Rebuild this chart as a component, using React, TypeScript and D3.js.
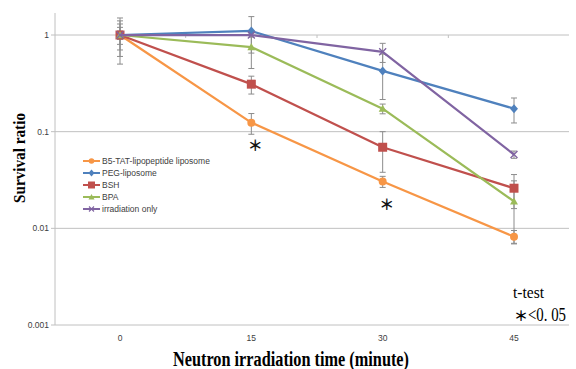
import React, { useRef, useEffect } from 'react'
import * as d3 from 'd3'

// neutron irradiation time (minute)
const times = ['0', '15', '30', '45']
const seriesNames = ['B5-TAT-lipopeptide liposome', 'PEG-liposome', 'BSH', 'BPA', 'irradiation only']
const seriesColors = ['#F79646', '#4F81BD', '#C0504D', '#9BBB59', '#8064A2']
const seriesMarkers = ['circle', 'diamond', 'square', 'triangle', 'x']

// survival ratio and error (linear +/-)
const b5tat = [1, 0.124, 0.0305, 0.0082]
const b5tatErr = [0.5, 0.03, 0.004, 0.0013]
const peg = [1, 1.1, 0.425, 0.173]
const pegErr = [0.4, 0.45, 0.21, 0.05]
const bsh = [1, 0.31, 0.069, 0.026]
const bshErr = [0.3, 0.065, 0.031, 0.01]
const bpa = [1, 0.75, 0.173, 0.019]
const bpaErr = [0.2, 0.3, 0.02, 0.012]
const irradiation = [1, 1.0, 0.67, 0.058]
const irradiationErr = [0.1, 0.05, 0.15, 0.005]

const yTicks = [1, 0.1, 0.01, 0.001]
const yTickLabels = ['1', '0.1', '0.01', '0.001']
// points marked significant (series 0)
const starTimes = ['15', '30']

const values = [b5tat, peg, bsh, bpa, irradiation]
const errors = [b5tatErr, pegErr, bshErr, bpaErr, irradiationErr]

const W = 576
const H = 369

const markerPath = (type: string, cx: number, cy: number, s: number) => {
  const h = s / 2
  if (type === 'diamond') return `M${cx},${cy - h - 0.5}L${cx + h},${cy}L${cx},${cy + h + 0.5}L${cx - h},${cy}Z`
  if (type === 'square') return `M${cx - h},${cy - h}h${s}v${s}h${-s}Z`
  if (type === 'triangle') return `M${cx},${cy - h}L${cx + h},${cy + h * 0.8}L${cx - h},${cy + h * 0.8}Z`
  if (type === 'x') return `M${cx - h},${cy - h}L${cx + h},${cy + h}M${cx - h},${cy + h}L${cx + h},${cy - h}`
  return ''
}

const App = () => {
  const svgRef = useRef<SVGSVGElement>(null)

  useEffect(() => {
    const svg = d3.select(svgRef.current)
    svg.selectAll('*').remove()

    const left = 55
    const right = 569

    const x = d3.scalePoint<string>().domain(times).range([120, 514])
    const y = d3.scaleLog().domain([0.001, 1]).range([325, 35])
    const step = x.step()

    // gridlines
    svg.append('g')
      .selectAll('line')
      .data(yTicks)
      .join('line')
      .attr('x1', left)
      .attr('x2', right)
      .attr('y1', d => y(d))
      .attr('y2', d => y(d))
      .attr('stroke', '#c0c0c0')
      .attr('stroke-width', 1)

    // y axis
    svg.append('line')
      .attr('x1', left).attr('x2', left)
      .attr('y1', y(1) - 22).attr('y2', y(0.001))
      .attr('stroke', '#c0c0c0')
    svg.append('g')
      .selectAll('line')
      .data(yTicks)
      .join('line')
      .attr('x1', left - 4).attr('x2', left)
      .attr('y1', d => y(d)).attr('y2', d => y(d))
      .attr('stroke', '#c0c0c0')
    svg.append('g')
      .selectAll('text')
      .data(yTicks)
      .join('text')
      .attr('x', 49)
      .attr('y', d => y(d) + 3)
      .attr('text-anchor', 'end')
      .attr('font-family', '"Liberation Sans Narrow", "Liberation Sans", sans-serif')
      .attr('font-size', 8.5)
      .attr('fill', '#404040')
      .text((d, i) => yTickLabels[i])

    // category axis crosses at 1: tick marks at boundaries
    const bounds = times.slice(0, -1).map(t => (x(t) as number) + step / 2)
    svg.append('g')
      .selectAll('line')
      .data(bounds)
      .join('line')
      .attr('x1', d => d).attr('x2', d => d)
      .attr('y1', y(1)).attr('y2', y(1) + 3)
      .attr('stroke', '#c0c0c0')

    // x tick labels (low position)
    svg.append('g')
      .selectAll('text')
      .data(times)
      .join('text')
      .attr('x', d => x(d) as number)
      .attr('y', 341)
      .attr('text-anchor', 'middle')
      .attr('font-family', '"Liberation Sans Narrow", "Liberation Sans", sans-serif')
      .attr('font-size', 8.5)
      .attr('fill', '#404040')
      .text(d => d)

    // error bars
    values.forEach((vals, si) => {
      const g = svg.append('g')
      vals.forEach((v, i) => {
        const e = errors[si][i]
        const cx = x(times[i]) as number
        const yt = y(v + e)
        const yb = y(Math.max(v - e, 0.0011))
        g.append('line').attr('x1', cx).attr('x2', cx).attr('y1', yt).attr('y2', yb)
          .attr('stroke', '#8c8c8c').attr('stroke-width', 1)
        ;[yt, yb].forEach(yy => {
          g.append('line').attr('x1', cx - 3).attr('x2', cx + 3).attr('y1', yy).attr('y2', yy)
            .attr('stroke', '#8c8c8c').attr('stroke-width', 1)
        })
      })
    })

    // lines + markers
    const line = d3.line<number>()
      .x((d, i) => x(times[i]) as number)
      .y(d => y(d))

    values.forEach((vals, si) => {
      const color = seriesColors[si]
      svg.append('path')
        .datum(vals)
        .attr('d', line)
        .attr('fill', 'none')
        .attr('stroke', color)
        .attr('stroke-width', 2.25)
        .attr('stroke-linejoin', 'round')

      const mk = seriesMarkers[si]
      vals.forEach((v, i) => {
        const cx = x(times[i]) as number
        const cy = y(v)
        if (mk === 'circle') {
          svg.append('circle').attr('cx', cx).attr('cy', cy).attr('r', 4).attr('fill', color)
        } else if (mk === 'x') {
          svg.append('path').attr('d', markerPath(mk, cx, cy, 7))
            .attr('stroke', color).attr('stroke-width', 1.3).attr('fill', 'none')
        } else {
          svg.append('path').attr('d', markerPath(mk, cx, cy, mk === 'square' ? 9 : 8)).attr('fill', color)
        }
      })
    })

    // significance stars under B5-TAT points
    svg.append('g')
      .selectAll('text')
      .data(starTimes)
      .join('text')
      .attr('x', d => (x(d) as number) + 4)
      .attr('y', d => y(b5tat[times.indexOf(d)]) + 28)
      .attr('text-anchor', 'middle')
      .attr('font-family', '"Noto Sans CJK JP", sans-serif')
      .attr('font-weight', 'bold')
      .attr('font-size', 15)
      .attr('fill', '#111')
      .text('＊')

    // legend
    const lg = svg.append('g').attr('transform', 'translate(83,161)')
    seriesNames.forEach((name, i) => {
      const row = lg.append('g').attr('transform', `translate(0,${i * 12})`)
      const color = seriesColors[i]
      row.append('line').attr('x1', 0).attr('x2', 17).attr('y1', 0).attr('y2', 0)
        .attr('stroke', color).attr('stroke-width', 2)
      const mk = seriesMarkers[i]
      if (mk === 'circle') {
        row.append('circle').attr('cx', 8.5).attr('cy', 0).attr('r', 2.8).attr('fill', color)
      } else if (mk === 'x') {
        row.append('path').attr('d', markerPath(mk, 8.5, 0, 5)).attr('stroke', color).attr('stroke-width', 1.1)
      } else {
        row.append('path').attr('d', markerPath(mk, 8.5, 0, mk === 'square' ? 7 : 6)).attr('fill', color)
      }
      row.append('text')
        .attr('x', 19)
        .attr('y', 3.2)
        .attr('font-family', '"Liberation Sans Narrow", "Liberation Sans", sans-serif')
        .attr('font-size', 8.5)
        .attr('fill', '#404040')
        .text(name)
    })

    // axis titles
    svg.append('text')
      .attr('x', 173)
      .attr('y', 366)
      .attr('font-family', '"Liberation Serif", "Times New Roman", serif')
      .attr('font-weight', 'bold')
      .attr('font-size', 20)
      .attr('textLength', 236)
      .attr('lengthAdjust', 'spacingAndGlyphs')
      .attr('fill', '#000')
      .text('Neutron irradiation time (minute)')

    svg.append('text')
      .attr('transform', 'translate(25,203) rotate(-90)')
      .attr('font-family', '"Liberation Serif", "Times New Roman", serif')
      .attr('font-weight', 'bold')
      .attr('font-size', 17)
      .attr('textLength', 90)
      .attr('lengthAdjust', 'spacingAndGlyphs')
      .attr('fill', '#000')
      .text('Survival ratio')

    // t-test note
    svg.append('text')
      .attr('x', 513)
      .attr('y', 298)
      .attr('font-family', '"Liberation Serif", "Times New Roman", serif')
      .attr('font-size', 16)
      .attr('textLength', 31)
      .attr('lengthAdjust', 'spacingAndGlyphs')
      .attr('fill', '#000')
      .text('t-test')

    svg.append('text')
      .attr('x', 521)
      .attr('y', 321)
      .attr('text-anchor', 'middle')
      .attr('font-family', '"Noto Sans CJK JP", sans-serif')
      .attr('font-weight', 'bold')
      .attr('font-size', 14)
      .attr('fill', '#000')
      .text('＊')

    svg.append('text')
      .attr('x', 528)
      .attr('y', 321)
      .attr('font-family', '"Liberation Serif", "Times New Roman", serif')
      .attr('font-size', 19)
      .attr('textLength', 38)
      .attr('lengthAdjust', 'spacingAndGlyphs')
      .attr('fill', '#000')
      .text('<0. 05')
  }, [])

  return (
    <svg ref={svgRef} width={W} height={H}
      style={{ position: 'absolute', left: 0, top: 0, background: '#fff' }} />
  )
}

export default App
